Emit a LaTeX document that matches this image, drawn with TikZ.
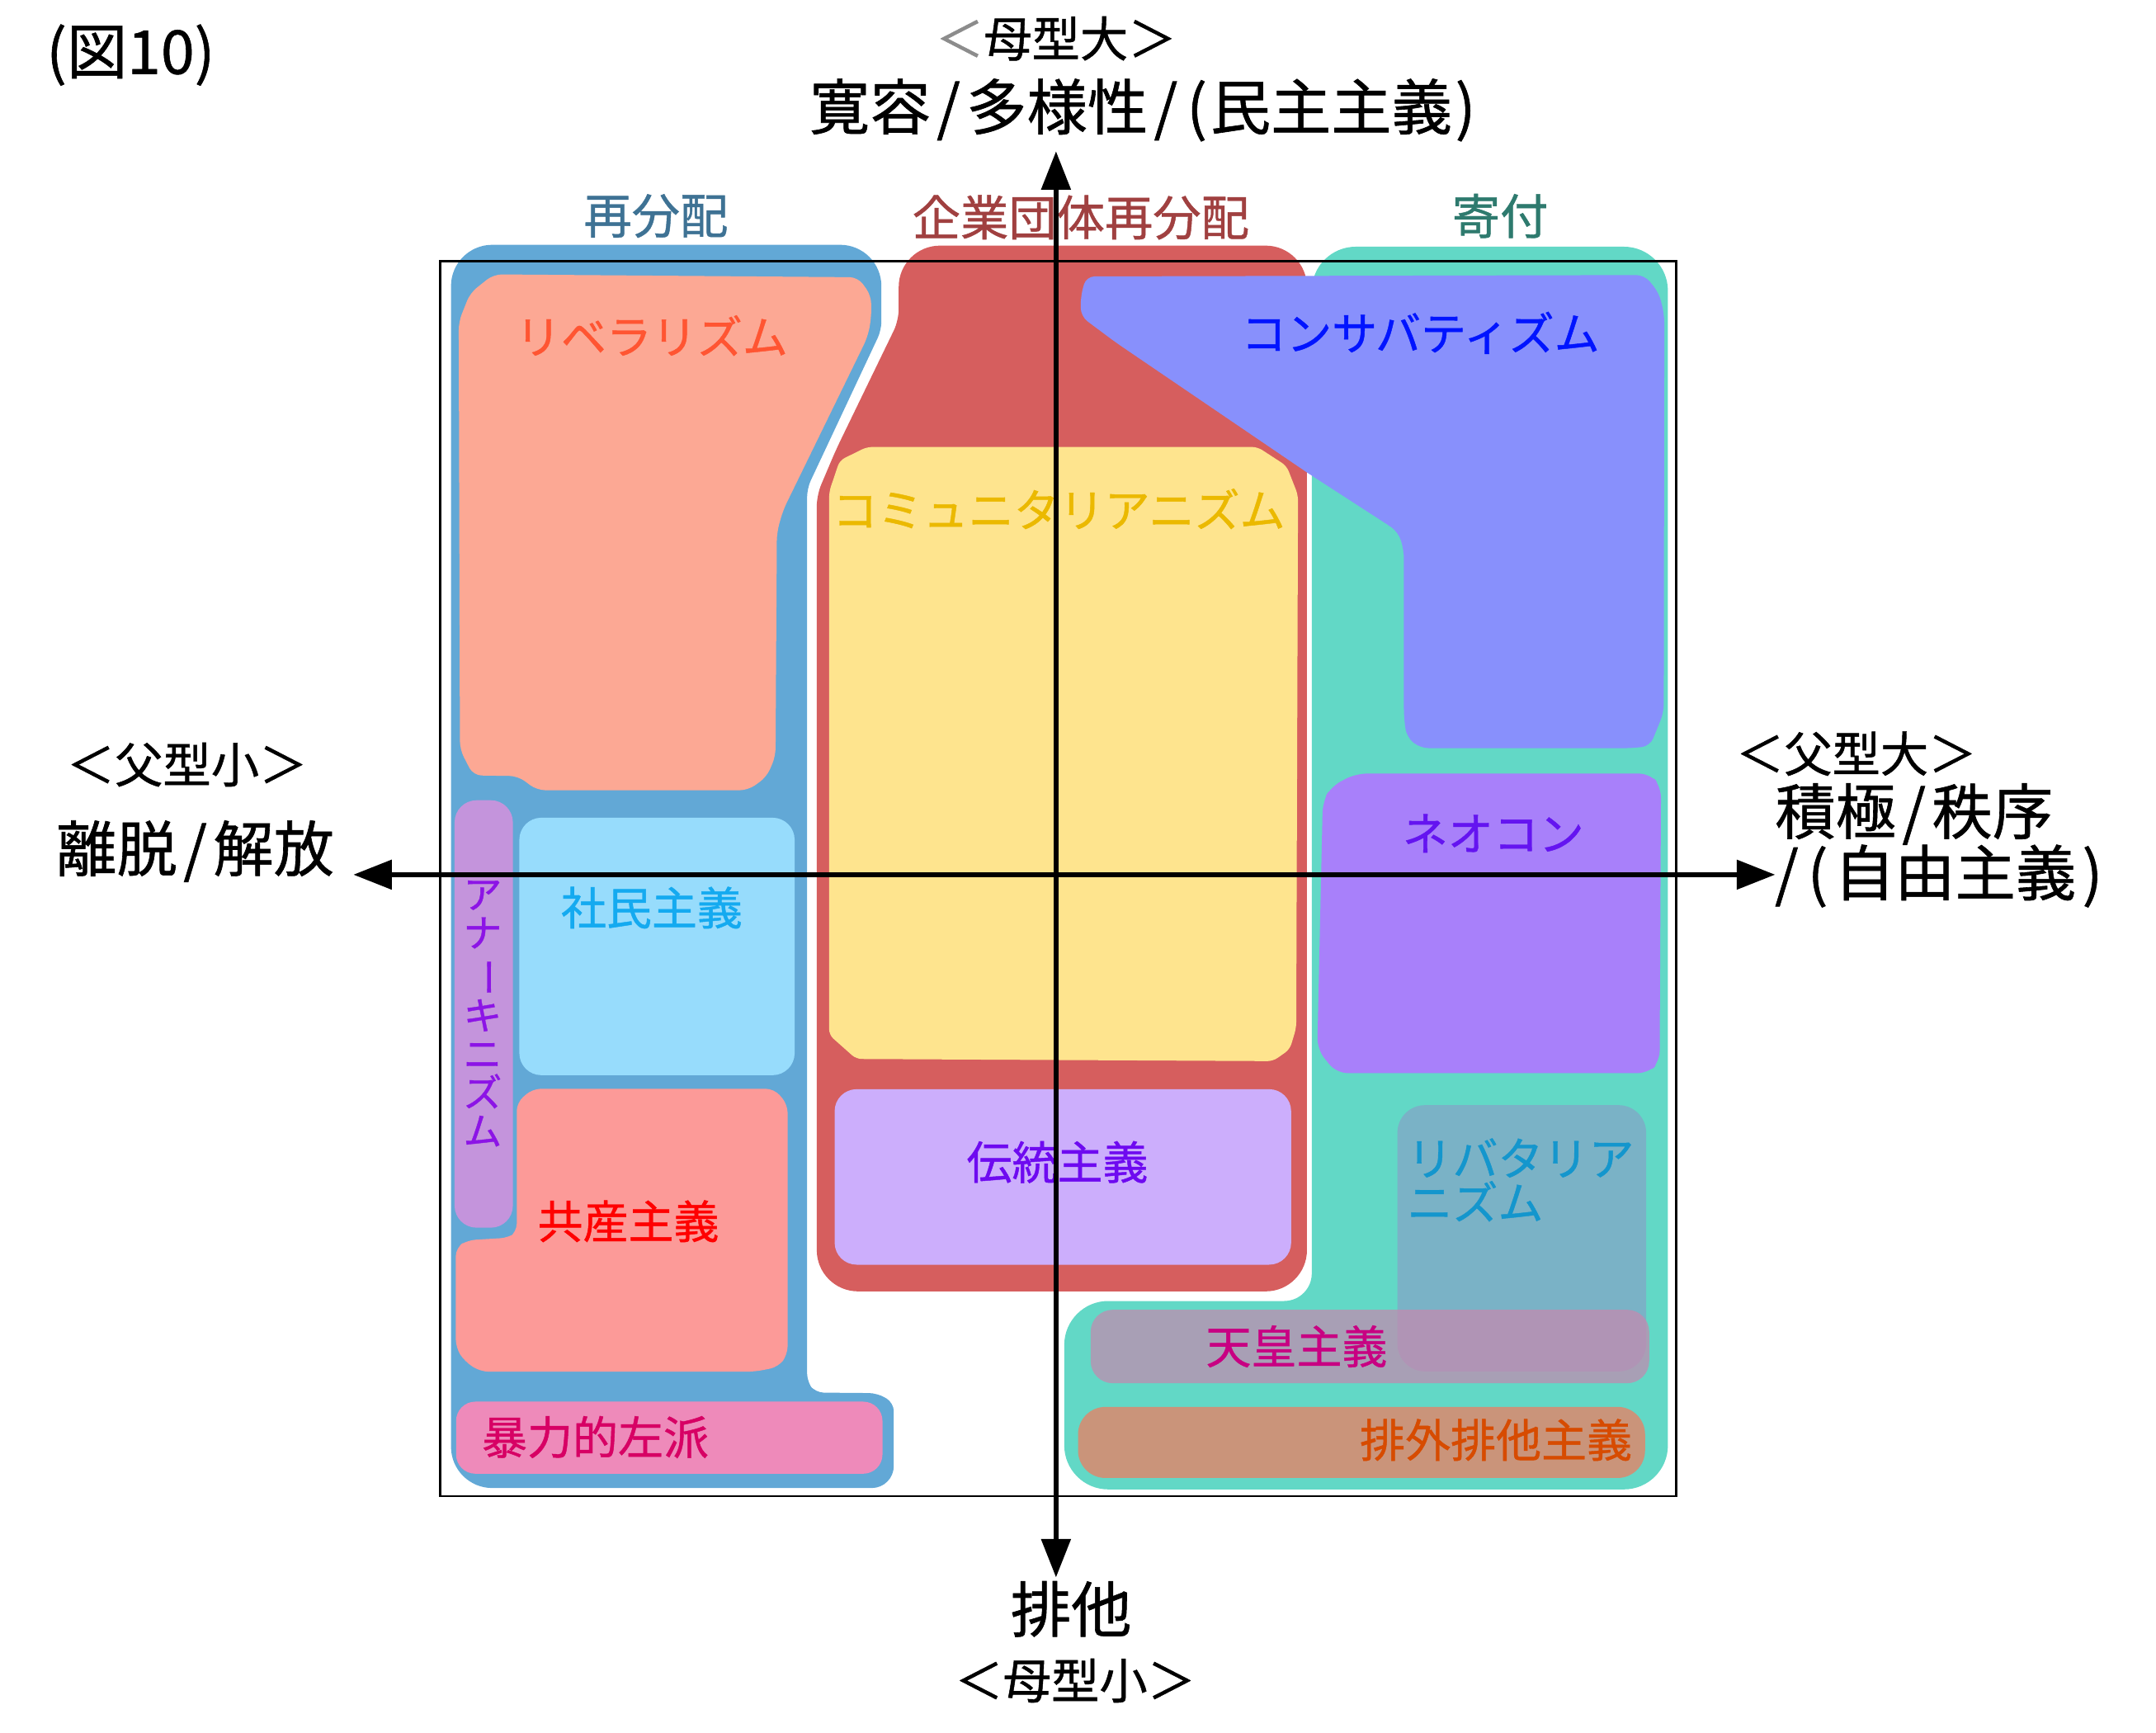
\documentclass[tikz,border=0pt]{standalone}
\usepackage{fontspec}
\setmainfont[FakeBold=0.8]{Noto Sans CJK JP}
\usepackage{graphicx}
\usetikzlibrary{arrows.meta}
\definecolor{cBlue}{RGB}{98,168,214}
\definecolor{cRed}{RGB}{214,94,94}
\definecolor{cTeal}{RGB}{98,216,198}
\definecolor{cSalmon}{RGB}{252,168,148}
\definecolor{cYellow}{RGB}{254,228,142}
\definecolor{cLav}{RGB}{204,174,252}
\definecolor{cPeri}{RGB}{136,144,252}
\definecolor{cNeo}{RGB}{168,128,250}
\definecolor{cLiber}{RGB}{122,178,198}
\definecolor{cTenno}{RGB}{199,136,174}
\definecolor{cHaigai}{RGB}{202,148,122}
\definecolor{cAna}{RGB}{196,148,220}
\definecolor{cShamin}{RGB}{151,220,252}
\definecolor{cKyosan}{RGB}{252,154,152}
\definecolor{cBoryoku}{RGB}{238,138,186}
\definecolor{tLibe}{RGB}{255,85,50}
\definecolor{tCons}{RGB}{0,20,255}
\definecolor{tComm}{RGB}{235,185,0}
\definecolor{tNeo}{RGB}{100,20,240}
\definecolor{tShamin}{RGB}{20,170,240}
\definecolor{tAna}{RGB}{140,20,230}
\definecolor{tKyosan}{RGB}{255,0,0}
\definecolor{tBoryoku}{RGB}{215,0,100}
\definecolor{tTrad}{RGB}{110,10,240}
\definecolor{tLiber}{RGB}{20,150,205}
\definecolor{tTenno}{RGB}{200,0,130}
\definecolor{tHaigai}{RGB}{215,75,0}
\definecolor{hBlue}{RGB}{62,114,148}
\definecolor{hRed}{RGB}{160,64,64}
\definecolor{hTeal}{RGB}{46,122,110}
\definecolor{bracketGray}{RGB}{140,140,140}
\newcommand{\slsh}{\kern0.1em/\kern0.1em}
\begin{document}
\begin{tikzpicture}[x=0.5pt,y=-0.5pt,
  every node/.style={inner sep=0pt},
  lbl/.style={font=\fontsize{16.5pt}{18pt}\selectfont},
  hdr/.style={font=\fontsize{17.5pt}{20pt}\selectfont},
  axsmall/.style={font=\fontsize{17.5pt}{20pt}\selectfont},
  axbig/.style={font=\fontsize{22pt}{24pt}\selectfont},
  axis/.style={line width=1.75pt,{Triangle[length=14pt,width=10.5pt]}-{Triangle[length=14pt,width=10.5pt]}}]
\useasboundingbox (0,0) rectangle (1568,1260);

% big regions
\fill[cBlue, rounded corners=15pt] (328,600) -- (328,178) -- (641,178) [rounded corners=3pt] -- (641,240) -- (587,355) -- (587,1005) -- (593,1012.6) -- (638,1013) -- (650,1020) [rounded corners=8pt] -- (650,1082) [rounded corners=15pt] -- (328,1082) -- cycle;
\fill[cRed, rounded corners=15pt] (594,600) -- (594,939) -- (950.5,939) -- (950.5,178.6) -- (653.6,178.6) [rounded corners=4pt] -- (653.6,233) -- (608,327) -- (594,360) -- cycle;
\fill[cTeal, rounded corners=16pt] (954,600) -- (954,179.4) -- (1213,179.4) -- (1213,1083) -- (774,1083) -- (774,946) [rounded corners=10pt] -- (954,946) -- cycle;

% inner regions
\fill[cSalmon, rounded corners=3pt] (359,199.5) -- (624,201.6) -- (633.6,215) -- (633.6,231.7) -- (631,245) -- (569.5,371) -- (565,387) -- (564,550) -- (557.5,565) -- (544,574.6) -- (390.6,574.6) -- (376.7,564.3) -- (344.2,563.8) -- (334.5,545) -- (333.6,234) -- (342,213) -- cycle;
\fill[cYellow, rounded corners=2pt] (630.5,325) -- (914.5,325) -- (935.7,338.8) -- (944,360) -- (942.7,747.4) -- (938,763) -- (925.8,771.6) -- (622.7,770) -- (603,752.5) -- (603,357.6) -- (610.7,334.8) -- cycle;
\fill[cLav, rounded corners=8pt] (607,792) rectangle (939,919.6);
\fill[cPeri, rounded corners=3pt] (790,201) -- (1196,200) -- (1206.5,213) -- (1210.4,229) -- (1210,518) -- (1200,542.5) -- (1187,544) -- (1033,544) -- (1023,536) -- (1021,521) -- (1021,400) -- (1017,387) -- (1011.5,383) -- (951.5,344.2) -- (811.5,249) -- (786,230) -- (786,215) -- cycle;
\fill[cNeo, rounded corners=4pt] (986,562.5) -- (1200,562.5) -- (1208,572) -- (1207,772) -- (1199,780.3) -- (972,780.3) -- (958,763) -- (962,583) -- (968,572) -- cycle;
\fill[cLiber, rounded corners=10pt] (1016.3,803.6) rectangle (1197.2,997.2);
\fill[cTenno, opacity=0.7, rounded corners=8pt] (793.2,952.4) rectangle (1199.4,1005.8);
\fill[cHaigai, rounded corners=10pt] (784,1023) rectangle (1196.4,1074.7);
\fill[cAna, rounded corners=8pt] (330.6,581.9) rectangle (373,892.7);
\fill[cShamin, rounded corners=8pt] (377.7,594.6) rectangle (577.9,781.8);
\fill[cKyosan, rounded corners=3pt] (387.3,791.7) -- (563,791.7) -- (572.8,803) -- (572.8,985) -- (566,994) -- (549,997.4) -- (349.4,997.4) -- (338,990) -- (331.5,980) -- (331.5,907.2) -- (340,901.8) -- (370,900) -- (375.8,896) -- (375.8,801.8) -- cycle;
\fill[cBoryoku, rounded corners=7pt] (331.7,1019.2) rectangle (641.8,1071.6);

% frame
\draw[line width=0.8pt] (320,190) rectangle (1219,1088);

% group headers
\node[hdr, text=hBlue] (h1) at (477,157) {再分配};
\node[hdr, text=hRed] (h2) at (786,158) {企業団体再分配};
\node[hdr, text=hTeal] (h3) at (1091,157) {寄付};

% labels
\node[lbl, text=tLibe] (libe) at (474,244) {リベラリズム};
\node[lbl, text=tCons] (cons) at (1033,242) {コンサバティズム};
\node[lbl, text=tComm] (comm) at (770,370) {コミュニタリアニズム};
\node[lbl, text=tNeo] (neo) at (1086,606) {ネオコン};
\node[lbl, text=tShamin] (shamin) at (474,660) {社民主義};
\node[font=\fontsize{14pt}{14pt}\selectfont, text=tAna, align=center] (ana) at (351,737) {ア\\ナ\\\rotatebox[origin=c]{-90}{ー}\\キ\\ニ\\ズ\\ム};
\node[lbl, text=tKyosan] (kyosan) at (457,888) {共産主義};
\node[lbl, text=tBoryoku] (boryoku) at (433,1045) {暴力的左派};
\node[lbl, text=tTrad] (trad) at (769,845) {伝統主義};
\node[font=\fontsize{16.5pt}{16pt}\selectfont, text=tLiber, align=left, anchor=west] (liber) at (1023,858) {リバタリア\\ニズム};
\node[lbl, text=tTenno] (tenno) at (943,979) {天皇主義};
\node[lbl, text=tHaigai] (haigai) at (1088,1047) {排外排他主義};

% axis labels
\node[axbig] (fig) at (95,40) {(図10)};
\node[axsmall] (topsmall) at (768,28) {\textcolor{bracketGray}{＜}母型大＞};
\node[axbig] (topbig) at (831,80) {寛容\slsh 多様性\slsh\kern0.05em(\kern0.05em民主主義\kern0.05em)};
\node[axsmall] (leftsmall) at (136,556) {＜父型小＞};
\node[axbig] (leftbig) at (142,619) {離脱\slsh 解放};
\node[axsmall] (rightsmall) at (1350,548) {＜父型大＞};
\node[axbig] (rightbig1) at (1392,592) {積極\slsh 秩序};
\node[axbig] (rightbig2) at (1410,637) {/\kern0.15em(\kern0.1em自由主義\kern0.1em)};
\node[axbig] (botbig) at (779,1170) {排他};
\node[axsmall] (botsmall) at (782,1222) {＜母型小＞};

% axes
\coordinate (vtop) at (768,110);
\coordinate (vbot) at (768,1147);
\coordinate (hleft) at (257,636);
\coordinate (hright) at (1291,636);
\draw[axis] (vbot) -- (vtop);
\draw[axis] (hleft) -- (hright);
\end{tikzpicture}
\end{document}
